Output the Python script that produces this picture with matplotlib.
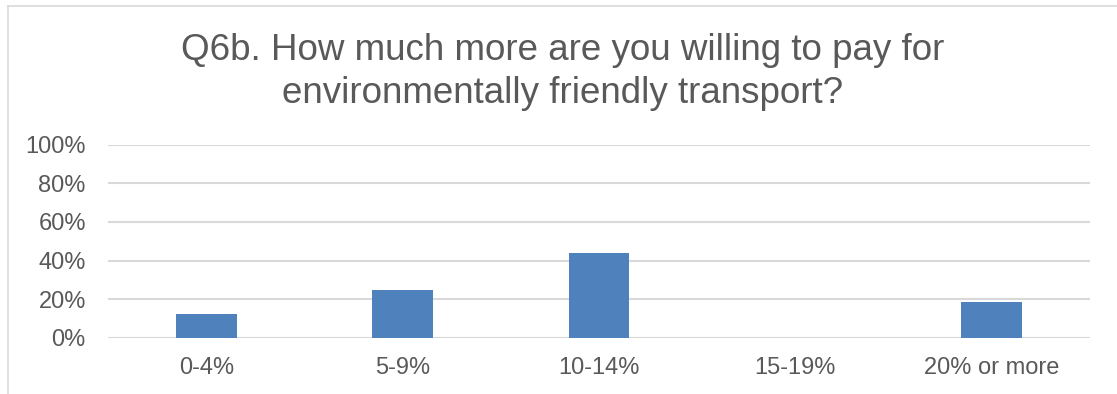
import matplotlib.pyplot as plt
from matplotlib.lines import Line2D
from matplotlib.ticker import PercentFormatter

plt.rcParams['font.family'] = ['Liberation Sans', 'DejaVu Sans']

# Share of respondents per extra-cost band
categories = ['0-4%', '5-9%', '10-14%', '15-19%', '20% or more']
shares = [12.5, 25.0, 43.75, 0.0, 18.75]
y_ticks = [0, 20, 40, 60, 80, 100]
title_lines = ['Q6b. How much more are you willing to pay for',
               'environmentally friendly transport?']

text_grey = '#595959'
grid_grey = '#D9D9D9'
bar_blue = '#4F81BD'

W, H = 1117, 394
fig = plt.figure(figsize=(W / 100, H / 100), dpi=100)

# axes placed in pixel terms
left, right, top, bottom = 108, 1090, 144.5, 338
ax = fig.add_axes([left / W, 1 - bottom / H, (right - left) / W, (bottom - top) / H])

x = range(len(categories))
ax.bar(x, shares, width=0.31, color=bar_blue, zorder=3)

ax.set_xlim(-0.5, len(categories) - 0.5)
ax.set_ylim(0, 100)
ax.set_yticks(y_ticks)
ax.yaxis.set_major_formatter(PercentFormatter(decimals=0))
ax.set_xticks(list(x))
ax.set_xticklabels(categories)
ax.tick_params(axis='both', length=0, labelsize=17, labelcolor=text_grey)
ax.tick_params(axis='x', pad=14)
ax.tick_params(axis='y', pad=16)
ax.grid(axis='y', color=grid_grey, linewidth=1.5, zorder=0)
for s in ax.spines.values():
    s.set_visible(False)

# two-line title, baselines set separately
for line, base in zip(title_lines, [60, 103]):
    fig.text(563 / W, 1 - base / H, line, ha='center', va='baseline',
             fontsize=26.5, color=text_grey)

# chart frame (top and left edges)
fig.add_artist(Line2D([8 / W, 1], [1 - 6 / H, 1 - 6 / H], transform=fig.transFigure,
                      color=grid_grey, linewidth=1.2))
fig.add_artist(Line2D([8 / W, 8 / W], [0, 1 - 6 / H], transform=fig.transFigure,
                      color=grid_grey, linewidth=1.2))

fig.savefig('out.png', dpi=100)
